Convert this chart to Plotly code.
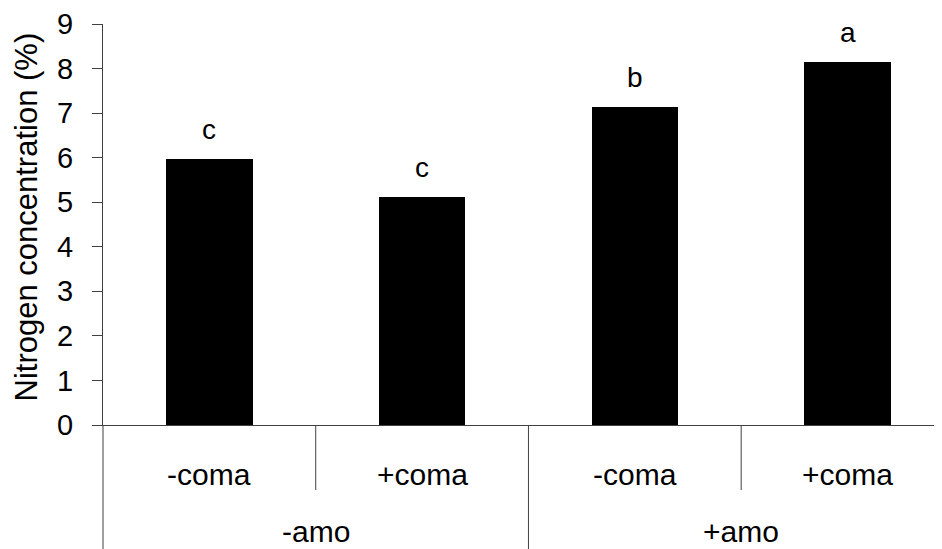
import plotly.graph_objects as go

amo_groups = ["-amo", "+amo"]
coma_labels = ["-coma", "+coma", "-coma", "+coma"]
group_of_bar = [0, 0, 1, 1]
nitrogen = [5.98, 5.12, 7.14, 8.14]
letters = ["c", "c", "b", "a"]
y_ticks = [0, 1, 2, 3, 4, 5, 6, 7, 8, 9]
y_title = "Nitrogen concentration (%)"

FONT = "Liberation Sans, Arial, sans-serif"
LINE = "#404040"
FS_TICK = 29
FS_CAT = 30
FS_LET = 28
FS_TITLE = 31

# page body has an 8px default margin: size the figure so the page matches 942x549
W, H = 934, 541
ML, MT, MB, MR = 95, 16, 124, 0
plot_h = H - MT - MB

xpos = list(range(len(nitrogen)))
xmin, xmax = -0.5, 3.444

def px(v):
    return (v - xmin) / (xmax - xmin)

fig = go.Figure()
fig.add_trace(go.Bar(
    x=xpos, y=nitrogen, width=0.407,
    marker=dict(color="black", line=dict(width=0)),
    showlegend=False, hoverinfo="skip",
))

ann = []
for x, v, l in zip(xpos, nitrogen, letters):
    ann.append(dict(x=x, y=v, xref="x", yref="y", text=l, showarrow=False,
                    yanchor="bottom", xanchor="center", yshift=12,
                    font=dict(family=FONT, size=FS_LET, color="black")))
for x, l in zip(xpos, coma_labels):
    ann.append(dict(x=x, y=0, xref="x", yref="paper", text=l, showarrow=False,
                    yanchor="middle", xanchor="center", yshift=-49,
                    font=dict(family=FONT, size=FS_CAT, color="black")))
for gi, g in enumerate(amo_groups):
    members = [x for x, gg in zip(xpos, group_of_bar) if gg == gi]
    cx = sum(members) / len(members)
    ann.append(dict(x=cx, y=0, xref="x", yref="paper", text=g, showarrow=False,
                    yanchor="middle", xanchor="center", yshift=-106,
                    font=dict(family=FONT, size=FS_CAT, color="black")))
ann.append(dict(x=0, y=0.5, xref="paper", yref="paper", text=y_title,
                showarrow=False, textangle=-90, xanchor="center", yanchor="middle",
                xshift=-77, yshift=7,
                font=dict(family=FONT, size=FS_TITLE, color="black")))

inner_len = -65 / plot_h
full_len = -MB / plot_h
shapes = []
shapes.append(dict(type="line", xref="paper", yref="paper", x0=px(-0.5), x1=px(-0.5),
                   y0=0, y1=full_len, line=dict(color=LINE, width=1)))
for i in range(len(xpos) - 1):
    b = i + 0.5
    same_group = group_of_bar[i] == group_of_bar[i + 1]
    shapes.append(dict(type="line", xref="paper", yref="paper", x0=px(b), x1=px(b),
                       y0=0, y1=inner_len if same_group else full_len,
                       line=dict(color=LINE, width=1)))

fig.update_layout(
    template="none",
    width=W, height=H,
    margin=dict(l=ML, r=MR, t=MT, b=MB, autoexpand=False),
    plot_bgcolor="white", paper_bgcolor="white",
    bargap=0,
    xaxis=dict(range=[xmin, xmax], showticklabels=False, ticks="", showgrid=False,
               zeroline=False, showline=True, linecolor=LINE, linewidth=1,
               automargin=False),
    yaxis=dict(range=[0, 9], tickvals=y_ticks, ticks="outside", ticklen=10,
               tickcolor=LINE, tickwidth=1, showgrid=False, zeroline=False,
               showline=True, linecolor=LINE, linewidth=1, automargin=False,
               tickfont=dict(family=FONT, size=FS_TICK, color="black"),
               ticklabelstandoff=13),
    annotations=ann, shapes=shapes,
)

fig.write_html("out.html")
